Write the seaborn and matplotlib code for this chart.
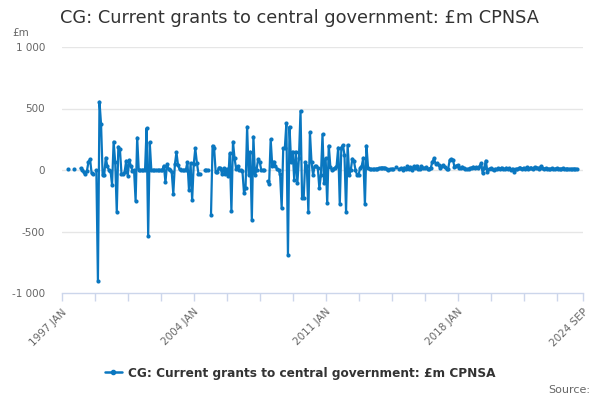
import numpy as np
import pandas as pd
import seaborn as sns
import matplotlib.pyplot as plt
from matplotlib.lines import Line2D

nan = np.nan

# monthly values (£m), 1997 JAN .. 2024 SEP
v1997 = [nan, nan, nan, nan, 5, nan, nan, nan, 5, nan, nan, nan]
v1998 = [14, 0, -20, -35, -8, 68, 87, -27, -35, nan, 0, -900]
v1999 = [555, 372, -40, -40, 100, 30, 0, -5, -120, 230, 65, -340]
v2000 = [190, 170, -30, -35, -15, 75, -45, 82, 30, -5, 0, -252]
v2001 = [263, 0, 0, 0, 0, 0, 339, -534, 225, 0, 0, 0]
v2002 = [0, 0, 0, 0, 0, 35, -100, 45, 10, 0, -20, -193]
v2003 = [45, 143, 40, 5, 0, 0, 0, 0, 65, -165, 55, -245]
v2004 = [45, 175, 60, -30, -30, nan, nan, 0, 0, 0, nan, -366]
v2005 = [198, 175, -20, -20, 20, 15, -30, 15, -35, 5, -45, 135]
v2006 = [-335, 230, 95, 10, 30, 0, 0, -5, -184, -150, 352, -40]
v2007 = [149, -407, 271, -40, 0, 89, 68, 0, 0, 0, nan, -89]
v2008 = [-116, 249, 35, 69, 35, 10, 0, -35, -311, 176, 176, 379]
v2009 = [-691, 352, 65, 150, -80, 149, -108, 100, 480, -230, -230, 65]
v2010 = [35, -344, 306, 65, -40, 30, 30, 20, -149, -40, 290, -108]
v2011 = [95, -271, 198, 27, 0, 10, 20, 35, 182, -279, 182, 203]
v2012 = [122, -339, 203, -40, 0, 92, 75, 0, -40, -40, 20, 35]
v2013 = [99, -279, 198, 20, 10, 5, 5, 8, 10, 12, 15, 18]
v2014 = [20, 20, 15, 5, 0, 5, 10, 8, nan, 25, nan, 5]
v2015 = [15, 0, 20, 5, 30, 10, 25, 0, 30, 15, 35, 10]
v2016 = [10, 30, 20, 15, 25, 5, 10, 20, 68, 95, 50, 55]
v2017 = [40, 15, 30, 40, 27, 5, 10, 81, 90, 85, 27, 35]
v2018 = [40, 14, 20, 27, 14, 10, 5, 10, 14, 20, 27, 15]
v2019 = [22, 15, 33, 54, -27, 20, 76, -14, 5, 14, 10, 0]
v2020 = [10, 5, 15, 8, 20, 12, 5, 18, 10, 14, 3, 12]
v2021 = [-14, 10, 5, 15, 20, 10, 18, 8, 22, 12, 15, 20]
v2022 = [10, 25, 15, 20, 12, 30, 18, 10, 15, 8, 12, 5]
v2023 = [14, 8, 10, 15, 6, 12, 9, 14, 5, 10, 12, 8]
v2024 = [10, 6, 12, 8, 10, nan, nan, nan, nan]

tick_labels = ["1997 JAN", "2004 JAN", "2011 JAN", "2018 JAN", "2024 SEP"]
y_ticks = [-1000, -500, 0, 500, 1000]
y_tick_labels = ["-1 000", "-500", "0", "500", "1 000"]

title = "CG: Current grants to central government: £m CPNSA"
blue = "#0a77c0"

values = (v1997 + v1998 + v1999 + v2000 + v2001 + v2002 + v2003 + v2004
          + v2005 + v2006 + v2007 + v2008 + v2009 + v2010 + v2011 + v2012
          + v2013 + v2014 + v2015 + v2016 + v2017 + v2018 + v2019 + v2020
          + v2021 + v2022 + v2023 + v2024)
months = pd.period_range("1997-01", "2024-09", freq="M")

df = pd.DataFrame({"month": months.astype(str), "value": values})
df["idx"] = np.arange(len(df))
# break the line where a month is missing
df["seg"] = df["value"].isna().cumsum()
df = df.dropna(subset=["value"])

sns.set_style("white")
plt.rcParams["font.family"] = ["DejaVu Sans"]

fig = plt.figure(figsize=(6, 4), dpi=100)
ax = fig.add_axes([0.103, 0.2675, 0.869, 0.615])

sns.lineplot(data=df, x="idx", y="value", units="seg", estimator=None,
             sort=False, color=blue, linewidth=1.6, marker="o",
             markersize=3, markeredgewidth=0, legend=False, ax=ax)

n = len(months)
ax.set_xlim(0, n - 1)
ax.set_ylim(-1000, 1000)

xt = list(range(0, n - 1 - 10, 21)) + [n - 1]
xl = []
for t in xt:
    lab = months[t].strftime("%Y %b").upper()
    xl.append(lab if lab in tick_labels else "")
ax.set_xticks(xt)
ax.set_xticklabels(xl, rotation=45, ha="right", rotation_mode="anchor",
                   fontsize=7.5, color="#666666")
ax.tick_params(axis="x", bottom=True, direction="out", length=6, width=1,
               color="#ccd6eb", pad=4)

ax.set_yticks(y_ticks)
ax.set_yticklabels(y_tick_labels, fontsize=7.5, color="#666666")
ax.tick_params(axis="y", left=False, length=0, pad=12)

for v in y_ticks[1:]:
    ax.axhline(v, color="#e6e6e6", lw=1, zorder=0)

for s in ["top", "right", "left"]:
    ax.spines[s].set_visible(False)
ax.spines["bottom"].set_color("#ccd6eb")
ax.spines["bottom"].set_linewidth(1)

ax.set_xlabel("")
ax.set_ylabel("")

fig.text(0.1, 0.955, title, fontsize=12.8, color="#333333", va="center")
fig.text(0.02, 0.918, "£m", fontsize=7.5, color="#666666", va="center")
fig.text(0.983, 0.025, "Source:", fontsize=8, color="#666666",
         ha="right", va="center")

handle = Line2D([], [], color=blue, lw=1.8, marker="o", markersize=3)
fig.legend([handle], [title], loc="center", bbox_to_anchor=(0.5, 0.067),
           frameon=False, handlelength=1.4, handletextpad=0.5,
           prop={"size": 8.7, "weight": "bold"}, labelcolor="#333333")

fig.savefig("out.png", dpi=100)
